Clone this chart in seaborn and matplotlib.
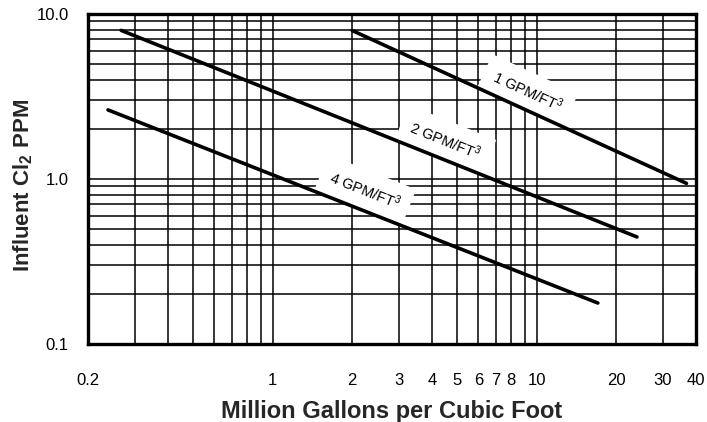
import numpy as np
import pandas as pd
import matplotlib
matplotlib.use('Agg')
import matplotlib.pyplot as plt
import seaborn as sns

# Line endpoints (straight lines on log-log axes)
flow_rates = ['1 GPM/FT$^{3}$', '2 GPM/FT$^{3}$', '4 GPM/FT$^{3}$']
mgal_start = [2.0, 0.267, 0.238]
mgal_end = [36.8, 23.9, 17.0]
ppm_start = [7.93, 7.95, 2.62]
ppm_end = [0.94, 0.445, 0.177]

# Where the labels sit
label_x = [9.2, 4.5, 2.24]
label_y = [3.4, 1.72, 0.86]
label_angle = [-24.7, -21.9, -21.6]

# Axis ticks
x_grid = [0.2, 0.3, 0.4, 0.5, 0.6, 0.7, 0.8, 0.9, 1, 2, 3, 4, 5, 6, 7, 8, 9, 10, 20, 30, 40]
x_labels = {0.2: '0.2', 1: '1', 2: '2', 3: '3', 4: '4', 5: '5', 6: '6', 7: '7',
            8: '8', 10: '10', 20: '20', 30: '30', 40: '40'}
y_grid = [0.1, 0.2, 0.3, 0.4, 0.5, 0.6, 0.7, 0.8, 0.9, 1, 2, 3, 4, 5, 6, 7, 8, 9, 10]
y_labels = {0.1: '0.1', 1: '1.0', 10: '10.0'}

df = pd.DataFrame({
    'rate': flow_rates + flow_rates,
    'mgal': mgal_start + mgal_end,
    'ppm': ppm_start + ppm_end,
})

sns.set_theme(style='white')
plt.rcParams['font.family'] = ['Liberation Sans', 'DejaVu Sans']
plt.rcParams['mathtext.fontset'] = 'custom'
plt.rcParams['mathtext.rm'] = 'Liberation Sans'
plt.rcParams['mathtext.it'] = 'Liberation Sans:italic'
plt.rcParams['mathtext.bf'] = 'Liberation Sans:bold'

fig = plt.figure(figsize=(7.07, 4.22), dpi=100)
ax = fig.add_axes([0.1245, 0.185, 0.86, 0.782])

sns.lineplot(data=df, x='mgal', y='ppm', hue='rate', palette=['black'] * 3,
             linewidth=2.6, legend=False, ax=ax, zorder=4)

ax.set_xscale('log')
ax.set_yscale('log')
ax.set_xlim(0.2, 40)
ax.set_ylim(0.1, 10)

ax.set_xticks(x_grid)
ax.set_xticklabels([x_labels.get(v, '') for v in x_grid])
ax.set_yticks(y_grid)
ax.set_yticklabels([y_labels.get(v, '') for v in y_grid])
ax.minorticks_off()
ax.tick_params(axis='x', length=0, pad=21, labelsize=12, colors='black')
ax.tick_params(axis='y', length=0, pad=14, labelsize=12, colors='black')

ax.set_axisbelow(True)
ax.grid(True, which='major', color='black', linewidth=1.1)
for s in ax.spines.values():
    s.set_color('black')
    s.set_linewidth(2.4)
    s.set_zorder(5)

for txt, lx, ly, ang in zip(flow_rates, label_x, label_y, label_angle):
    ax.text(lx, ly, txt, rotation=ang, rotation_mode='anchor', ha='center',
            va='center', fontsize=10.5, color='black', zorder=3,
            bbox=dict(facecolor='white', edgecolor='none', pad=7))

ax.set_xlabel('Million Gallons per Cubic Foot', fontsize=17, fontweight='bold')
ax.xaxis.set_label_coords(0.5, -0.17)
ax.set_ylabel(r'Influent Cl$_\mathbf{2}$ PPM', fontsize=16, fontweight='bold')
ax.yaxis.set_label_coords(-0.088, 0.479)

fig.savefig('out.png', dpi=100)
